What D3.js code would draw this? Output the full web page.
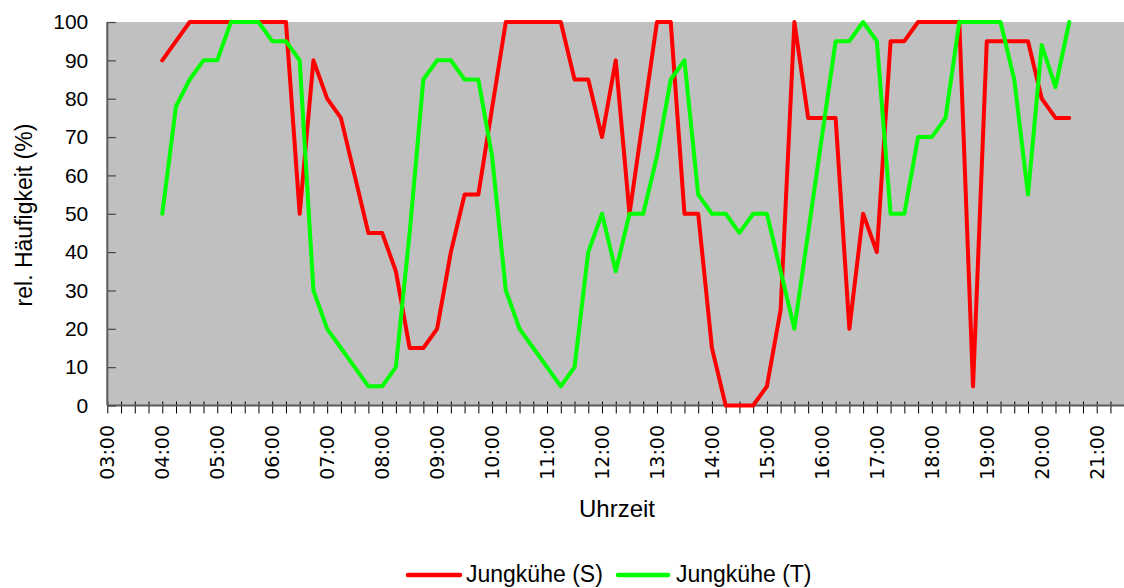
<!DOCTYPE html>
<html>
<head>
<meta charset="utf-8">
<script src="https://cdn.jsdelivr.net/npm/d3@7"></script>
<style>
html,body{margin:0;padding:0;background:#fff;}
svg{display:block;}
</style>
</head>
<body>
<svg id="chart" width="1124" height="588"></svg>
<script>
// ---- data ----
const times = [
 "04:00","04:15","04:30","04:45","05:00","05:15","05:30","05:45",
 "06:00","06:15","06:30","06:45","07:00","07:15","07:30","07:45",
 "08:00","08:15","08:30","08:45","09:00","09:15","09:30","09:45",
 "10:00","10:15","10:30","10:45","11:00","11:15","11:30","11:45",
 "12:00","12:15","12:30","12:45","13:00","13:15","13:30","13:45",
 "14:00","14:15","14:30","14:45","15:00","15:15","15:30","15:45",
 "16:00","16:15","16:30","16:45","17:00","17:15","17:30","17:45",
 "18:00","18:15","18:30","18:45","19:00","19:15","19:30","19:45",
 "20:00","20:15","20:30"
];
const jungkueheS = [
 90,95,100,100,100,100,100,100,
 100,100,50,90,80,75,60,45,
 45,35,15,15,20,40,55,55,
 77.5,100,100,100,100,100,85,85,
 70,90,50,75,100,100,50,50,
 15,0,0,0,5,25,100,75,
 75,75,20,50,40,95,95,100,
 100,100,100,5,95,95,95,95,
 80,75,75
];
const jungkueheT = [
 50,78,85,90,90,100,100,100,
 95,95,90,30,20,15,10,5,
 5,10,45,85,90,90,85,85,
 65,30,20,15,10,5,10,40,
 50,35,50,50,65,85,90,55,
 50,50,45,50,50,35,20,45,
 70,95,95,100,95,50,50,70,
 70,75,100,100,100,100,85,55,
 94,83,100
];
const seriesNames = ["Jungkühe (S)", "Jungkühe (T)"];
const seriesColors = ["#FF0000", "#00FF00"];
const yTicks = [0,10,20,30,40,50,60,70,80,90,100];
const xTickLabels = ["03:00","04:00","05:00","06:00","07:00","08:00","09:00","10:00","11:00",
  "12:00","13:00","14:00","15:00","16:00","17:00","18:00","19:00","20:00","21:00"];

// ---- layout ----
const svg = d3.select("#chart");
const L = 107.3, R = 1124.2, T = 22, B = 405.5;
const toHours = s => { const [h, m] = s.split(":").map(Number); return h + m / 60; };

const x = d3.scaleLinear().domain([3, 21.5]).range([L, R]);
const y = d3.scaleLinear().domain([0, 100]).range([B, T]);

// plot background
svg.append("rect").attr("x", L).attr("y", T).attr("width", 1124 - L).attr("height", B - T)
  .attr("fill", "#C0C0C0");

// minor (15 min) tick positions
const minorTicks = d3.range(3, 21.26, 0.25);

// x axis
const xAxis = d3.axisBottom(x).tickValues(minorTicks).tickSize(8).tickFormat("");
const gx = svg.append("g").attr("transform", `translate(0,${B})`).call(xAxis);
gx.select(".domain").remove();
gx.selectAll(".tick line").attr("y1", -4).attr("stroke", "#000").attr("stroke-width", 1);
svg.append("line").attr("x1", L).attr("x2", 1124).attr("y1", B).attr("y2", B)
  .attr("stroke", "#5a5a5a").attr("stroke-width", 2);

// x tick labels (rotated)
svg.append("g").selectAll("text").data(xTickLabels).join("text")
  .attr("transform", d => `translate(${x(toHours(d))},${425}) rotate(-90)`)
  .attr("text-anchor", "end")
  .attr("dy", "0.36em")
  .attr("font-family", "DejaVu Sans, sans-serif")
  .attr("font-size", 19)
  .attr("fill", "#000")
  .text(d => d);

// y axis
const yAxis = d3.axisLeft(y).tickValues(yTicks).tickSize(8).tickPadding(11);
const gy = svg.append("g").attr("transform", `translate(${L},0)`).call(yAxis);
gy.select(".domain").remove();
gy.selectAll(".tick line").attr("x2", 8.5).attr("stroke", "#444").attr("stroke-width", 1.2);
gy.selectAll(".tick text").attr("font-family", "Liberation Sans, Arial, sans-serif")
  .attr("font-size", 21).attr("fill", "#000");
svg.append("line").attr("x1", L).attr("x2", L).attr("y1", T).attr("y2", B)
  .attr("stroke", "#5a5a5a").attr("stroke-width", 2);

// lines
const seriesData = [jungkueheS, jungkueheT];
const line = d3.line()
  .x(d => x(toHours(d.t)))
  .y(d => y(d.v));
seriesData.forEach((vals, i) => {
  const pts = times.map((t, j) => ({ t, v: vals[j] }));
  svg.append("path").datum(pts)
    .attr("d", line)
    .attr("fill", "none")
    .attr("stroke", seriesColors[i])
    .attr("stroke-width", 4)
    .attr("stroke-linejoin", "round")
    .attr("stroke-linecap", "round");
});

// axis titles
svg.append("text")
  .attr("transform", `translate(32,${215}) rotate(-90)`)
  .attr("text-anchor", "middle")
  .attr("font-family", "Liberation Sans, Arial, sans-serif")
  .attr("font-size", 23)
  .attr("fill", "#000")
  .text("rel. Häufigkeit (%)");

svg.append("text")
  .attr("x", 617).attr("y", 517)
  .attr("text-anchor", "middle")
  .attr("font-family", "Liberation Sans, Arial, sans-serif")
  .attr("font-size", 24)
  .attr("fill", "#000")
  .text("Uhrzeit");

// legend
const legendItems = [
  { name: seriesNames[0], color: seriesColors[0], x0: 408, x1: 460, tx: 466 },
  { name: seriesNames[1], color: seriesColors[1], x0: 618, x1: 668, tx: 676 }
];
const lg = svg.append("g");
legendItems.forEach(it => {
  lg.append("line").attr("x1", it.x0).attr("x2", it.x1).attr("y1", 575).attr("y2", 575)
    .attr("stroke", it.color).attr("stroke-width", 4.5).attr("stroke-linecap", "round");
  lg.append("text").attr("x", it.tx).attr("y", 582)
    .attr("font-family", "Liberation Sans, Arial, sans-serif")
    .attr("font-size", 23).attr("fill", "#000").text(it.name);
});
</script>
</body>
</html>
